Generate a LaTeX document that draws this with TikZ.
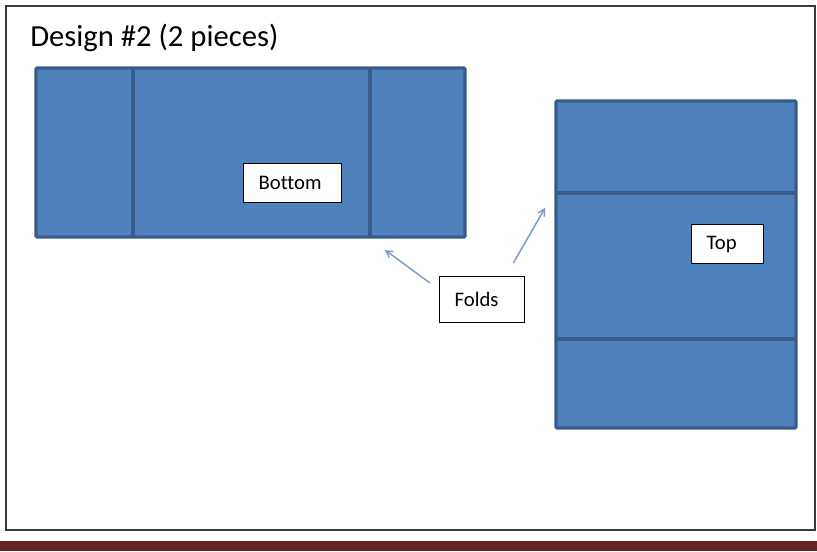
\documentclass[tikz,border=0pt]{standalone}
\usepackage{fontspec}
\setmainfont{Carlito}[Ligatures={NoCommon,NoRequired,NoContextual}]
\usetikzlibrary{arrows}

\definecolor{pieceblue}{HTML}{4F81BD}
\definecolor{pieceedge}{HTML}{385D8A}
\definecolor{foldblue}{HTML}{7C9CC8}
\definecolor{barred}{RGB}{99,36,35}

\begin{document}
\begin{tikzpicture}[x=0.75pt,y=-0.75pt,>=angle 60,
  piece/.style={fill=pieceblue,draw=pieceedge,line width=2.4pt,rounded corners=0.8pt},
  crease/.style={draw=pieceedge,line width=2.6pt},
  tag/.style={draw=black,fill=white,line width=1pt,font=\fontsize{15.5}{17}\selectfont,
    inner xsep=11.25pt,inner ysep=0pt,align=left,anchor=north west},
  fold/.style={->,draw=foldblue,line width=1.1pt}]
\useasboundingbox (0,0) rectangle (817,551);
\fill[white] (0,0) rectangle (817,551);
% frame and bar
\draw[gray!45!black,line width=1.5pt] (5.5,5.5) rectangle (814.5,530);
\fill[barred] (0,541) rectangle (817,551);
\node[anchor=base west,inner sep=0pt,font=\fontsize{23}{26}\selectfont] (title) at (30,46) {Design \#2 (2 pieces)};
% bottom piece
\draw[piece] (36,68) rectangle (465,237);
\draw[crease] (133,68) -- (133,237);
\draw[crease] (370,68) -- (370,237);
% top piece
\draw[piece] (556,101) rectangle (796,428);
\draw[crease] (556,193) -- (796,193);
\draw[crease] (556,339) -- (796,339);
% labels
\node[tag,text width=51pt,minimum height=29.25pt] (bottom) at (243,163) {Bottom};
\node[tag,text width=31.5pt,minimum height=29.25pt] (top) at (691,224) {Top};
\node[tag,text width=41.25pt,minimum height=34.5pt] (folds) at (439,276) {Folds};
\coordinate (foldB) at (385,250);
\coordinate (foldT) at (545,208);
\path (folds.north west) ++(-9,7) coordinate (fromB);
\path (folds.north east) ++(-12,-13) coordinate (fromT);
\draw[fold] (fromB) -- (foldB);
\draw[fold] (fromT) -- (foldT);
\end{tikzpicture}
\end{document}
